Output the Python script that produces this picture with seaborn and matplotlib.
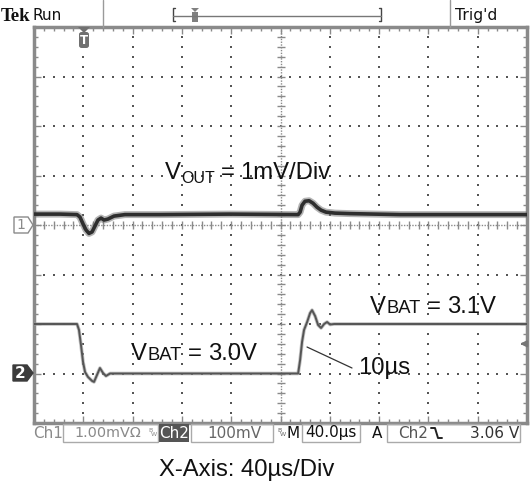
import numpy as np
import pandas as pd
import matplotlib
matplotlib.use("Agg")
import matplotlib.pyplot as plt
import seaborn as sns
from matplotlib.patches import Polygon, Rectangle, FancyBboxPatch
from matplotlib.lines import Line2D

# ---------------- data ----------------
# Channel 1: output ripple (time in us relative to trigger, value in mV above ground)
ch1_t = [-40.0, -18.9, -5.1, -2.7, -0.2, 2.2, 4.6, 7.1, 9.5, 11.9, 14.4, 16.8, 20.0, 24.9,
         33.8, 62.2, 119.0, 174.3, 175.9, 177.5, 179.9, 183.2, 186.4, 189.6, 192.9, 196.9,
         204.2, 216.4, 257.0, 360.0]
ch1_mv = [0.22, 0.22, 0.21, 0.16, 0.02, -0.10, -0.17, -0.14, -0.02, 0.10, 0.14, 0.10, 0.12, 0.18,
          0.21, 0.21, 0.22, 0.21, 0.26, 0.40, 0.48, 0.49, 0.44, 0.36, 0.30, 0.26,
          0.24, 0.23, 0.21, 0.21]
# Channel 2: battery voltage step (time in us, volts)
ch2_t = [-40.0, -5.1, -3.5, -1.9, -0.2, 1.4, 3.8, 7.1, 8.7, 11.1, 13.5, 16.0, 18.4, 21.7, 29.8,
         94.6, 174.3, 175.9, 177.5, 179.1, 181.6, 184.0, 185.6, 188.1, 190.5, 192.9, 195.4,
         197.8, 200.2, 203.5, 360.0]
ch2_v = [3.100, 3.100, 3.088, 3.058, 3.023, 3.003, 2.993, 2.985, 2.983, 2.997, 3.011, 3.001,
         2.995, 3.000, 3.000, 3.000, 3.000, 3.027, 3.064, 3.088, 3.104, 3.122, 3.128, 3.116,
         3.098, 3.092, 3.100, 3.104, 3.099, 3.100, 3.100]

T_LEFT = -40.0        # us at left edge
T_DIV = 40.0          # us / div
CH1_DIV = 1.0         # mV / div
CH2_DIV = 0.1         # V / div
CH2_REF = 3.0         # V at channel-2 marker
CH2_POS = -3.0        # div position of channel-2 marker
TRIG_V = 3.06

W, H = 531, 483
sns.set_theme(style="white")
plt.rcParams['font.family'] = ['Liberation Sans', 'DejaVu Sans']

fig = plt.figure(figsize=(W / 100, H / 100), dpi=100)
ax = fig.add_axes([34 / W, 60 / H, 493 / W, 396 / H])
ax.set_xlim(0, 10)
ax.set_ylim(-4, 4)

def fx(x):
    return x / W

def fy(y):
    return 1 - y / H

GRIDC = '#555555'
# dotted graticule
minor = np.arange(0, 10.001, 0.2)
minor_y = np.arange(-4, 4.001, 0.2)
gx_list, gy_list = [], []
for gx in range(1, 10):
    if gx == 5:
        continue
    gx_list.append(np.full_like(minor_y, gx))
    gy_list.append(minor_y)
for gy in range(-3, 4):
    if gy == 0:
        continue
    gx_list.append(minor)
    gy_list.append(np.full_like(minor, gy))
ax.scatter(np.concatenate(gx_list), np.concatenate(gy_list), s=1.6, marker='s',
           linewidths=0, color=GRIDC, zorder=1)
# center cross with fine ticks
ax.axhline(0, color='#8a8a8a', lw=1, ls=(0, (1, 1)), zorder=1)
ax.axvline(5, color='#8a8a8a', lw=1, ls=(0, (1, 1)), zorder=1)
ax.plot(minor, np.zeros_like(minor), ls='none', marker='|', ms=6, mew=1, color='#8a8a8a', zorder=1)
ax.plot(np.full_like(minor_y, 5), minor_y, ls='none', marker='_', ms=6, mew=1, color='#8a8a8a', zorder=1)

# frame
for s in ax.spines.values():
    s.set_color('#8a8a8a')
    s.set_linewidth(2.5)
ax.set_xticks(range(11))
ax.set_yticks(range(-4, 5))
ax.set_xticks(minor, minor=True)
ax.set_yticks(minor_y, minor=True)
ax.tick_params(which='both', direction='in', top=True, right=True, bottom=True, left=True,
               labelbottom=False, labelleft=False, color='#8a8a8a', width=1)
ax.tick_params(which='major', length=5)
ax.tick_params(which='minor', length=3)
ax.grid(False)

# traces
df1 = pd.DataFrame({'x': (np.array(ch1_t) - T_LEFT) / T_DIV, 'y': np.array(ch1_mv) / CH1_DIV})
df2 = pd.DataFrame({'x': (np.array(ch2_t) - T_LEFT) / T_DIV,
                    'y': (np.array(ch2_v) - CH2_REF) / CH2_DIV + CH2_POS})
sns.lineplot(data=df1, x='x', y='y', ax=ax, color='#777777', lw=5.0, alpha=0.55, sort=False, estimator=None, zorder=3)
sns.lineplot(data=df1, x='x', y='y', ax=ax, color='#2e2e2e', lw=2.6, sort=False, estimator=None, zorder=4)
sns.lineplot(data=df2, x='x', y='y', ax=ax, color='#9a9a9a', lw=2.6, alpha=0.6, sort=False, estimator=None, zorder=3)
sns.lineplot(data=df2, x='x', y='y', ax=ax, color='#555555', lw=1.4, sort=False, estimator=None, zorder=4)
ax.set_xlabel('')
ax.set_ylabel('')

renderer = fig.canvas.get_renderer()

def compose(x, y, parts, color='#111111'):
    cur = x
    for s, size, dy, gap in parts:
        cur += gap
        t = fig.text(fx(cur), fy(y + dy), s, fontsize=size, va='baseline', ha='left',
                     color=color, family=['Liberation Sans', 'DejaVu Sans'])
        bb = t.get_window_extent(renderer)
        cur = bb.x1

BIG = 17.2
SMALL = 13.2
compose(165, 179, [('V', BIG, 0, 0), ('OUT', 11.5, 4, 0), ('=', BIG, 0, 6), ('1mV/Div', BIG, 0, 6)])
compose(131, 360, [('V', BIG, 0, 0), ('BAT', SMALL, 0, 1), ('=', BIG, 0, 6), ('3.0V', BIG, 0, 6)])
compose(370, 313, [('V', BIG, 0, 0), ('BAT', SMALL, 0, 1), ('=', BIG, 0, 6), ('3.1V', BIG, 0, 6)])
compose(358, 374, [('10µs', BIG, 0, 0)])
fig.add_artist(Line2D([fx(307), fx(352)], [fy(347), fy(368)], color='#333333', lw=0.9))
fig.text(fx(247), fy(476), 'X-Axis: 40µs/Div', fontsize=BIG, ha='center', va='baseline', color='#111111')

# channel markers
fig.add_artist(Polygon([(fx(14), fy(217)), (fx(28), fy(217)), (fx(33), fy(225)), (fx(28), fy(233)), (fx(14), fy(233))],
                       closed=True, facecolor='white', edgecolor='#8a8a8a', lw=1))
fig.text(fx(21), fy(225), '1', fontsize=10, color='#8a8a8a', ha='center', va='center', family='DejaVu Sans')
fig.add_artist(Polygon([(fx(13), fy(365)), (fx(27), fy(365)), (fx(33), fy(373)), (fx(27), fy(381)), (fx(13), fy(381))],
                       closed=True, facecolor='#3c3c3c', edgecolor='#3c3c3c', lw=1))
fig.text(fx(20), fy(373), '2', fontsize=11, color='white', ha='center', va='center', family='DejaVu Sans', weight='bold')

# trigger level arrow (right side)
trig_div = (TRIG_V - CH2_REF) / CH2_DIV + CH2_POS
ax.annotate('', xy=(9.8, trig_div), xytext=(10.0, trig_div), annotation_clip=False,
            arrowprops=dict(arrowstyle='-|>', color='#777777', lw=1.5, mutation_scale=9))

# trigger position marker (top)
fig.add_artist(Polygon([(fx(78), fy(27)), (fx(90), fy(27)), (fx(84), fy(33))], closed=True,
                       facecolor='#707070', edgecolor='none'))
fig.add_artist(FancyBboxPatch((fx(79), fy(48)), fx(10), 16 / H, boxstyle='round,pad=0,rounding_size=0.005',
                              facecolor='#707070', edgecolor='none'))
fig.text(fx(84), fy(40), 'T', fontsize=8.5, color='white', ha='center', va='center', weight='bold', family='DejaVu Sans')

# top status bar
fig.text(fx(1), fy(21), 'Tek', fontsize=13.5, family='Liberation Serif', weight='bold', color='#111111', va='baseline')
fig.text(fx(33), fy(20), 'Run', fontsize=11, family='DejaVu Sans', color='#111111', va='baseline')
fig.text(fx(455), fy(20), "Trig'd", fontsize=11.3, family='DejaVu Sans', color='#111111', va='baseline')
for xv in (103, 450):
    fig.add_artist(Line2D([fx(xv), fx(xv)], [fy(0), fy(27)], color='#9a9a9a', lw=1))
fig.add_artist(Line2D([fx(175), fx(173), fx(173), fx(175)], [fy(8), fy(8), fy(21), fy(21)], color='#444444', lw=1))
fig.add_artist(Line2D([fx(379), fx(381), fx(381), fx(379)], [fy(8), fy(8), fy(21), fy(21)], color='#444444', lw=1))
fig.add_artist(Line2D([fx(173), fx(381)], [fy(16), fy(16)], color='#777777', lw=1))
fig.add_artist(Polygon([(fx(191), fy(8)), (fx(199), fy(8)), (fx(195), fy(12))], closed=True, facecolor='#808080', edgecolor='none'))
fig.add_artist(Rectangle((fx(192), fy(22)), fx(6), 10 / H, facecolor='#808080', edgecolor='none'))

# bottom status bar
BY = 433
FS = 11.0
for x0, x1 in [(63, 158), (191, 273), (302, 360), (387, 520)]:
    fig.add_artist(Rectangle((fx(x0), fy(442)), fx(x1 - x0), 18 / H, facecolor='none', edgecolor='#aaaaaa', lw=1))
fig.add_artist(Rectangle((fx(159), fy(442)), fx(30), 18 / H, facecolor='#555555', edgecolor='none'))
fig.text(fx(33), fy(BY), 'Ch1', fontsize=FS, color='#8a8a8a', va='center', family='DejaVu Sans')
fig.text(fx(74), fy(BY), '1.00mVΩ', fontsize=10.4, color='#8a8a8a', va='center', family='DejaVu Sans')
fig.text(fx(148), fy(BY - 3), 'B', fontsize=4.5, color='#8a8a8a', va='center', family='DejaVu Sans')
fig.text(fx(151), fy(BY + 2), 'W', fontsize=4.5, color='#8a8a8a', va='center', family='DejaVu Sans')
fig.text(fx(174), fy(BY), 'Ch2', fontsize=FS, color='white', va='center', ha='center', family='DejaVu Sans')
fig.text(fx(207), fy(BY), '100mV', fontsize=FS, color='#666666', va='center', family='DejaVu Sans')
fig.text(fx(277), fy(BY - 3), 'B', fontsize=4.5, color='#666666', va='center', family='DejaVu Sans')
fig.text(fx(280), fy(BY + 2), 'W', fontsize=4.5, color='#666666', va='center', family='DejaVu Sans')
fig.text(fx(286), fy(BY), 'M', fontsize=FS, color='#111111', va='center', family='DejaVu Sans')
fig.text(fx(305), fy(BY), '40.0µs', fontsize=FS, color='#111111', va='center', family='DejaVu Sans')
fig.text(fx(372), fy(BY), 'A', fontsize=FS, color='#111111', va='center', family='DejaVu Sans')
fig.text(fx(398), fy(BY), 'Ch2', fontsize=FS, color='#555555', va='center', family='DejaVu Sans')
fig.add_artist(Line2D([fx(431), fx(435), fx(438), fx(442)], [fy(428), fy(428), fy(438), fy(438)], color='#222222', lw=1.4))
fig.text(fx(519), fy(BY), '3.06 V', fontsize=FS, color='#333333', va='center', ha='right', family='DejaVu Sans')

fig.savefig('out.png', dpi=100)
